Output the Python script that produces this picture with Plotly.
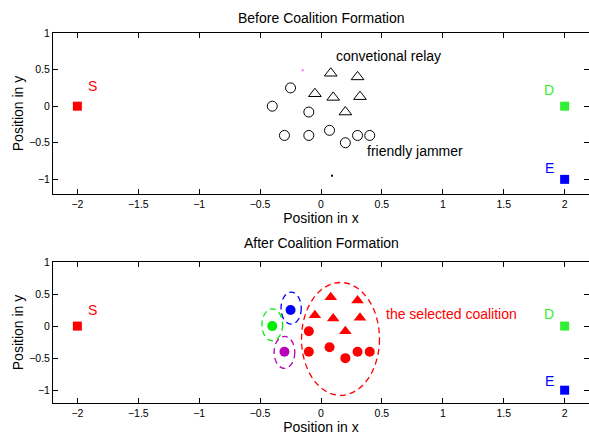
import plotly.graph_objects as go

# ---------------- data ----------------
relay_x = [0.08, 0.30, -0.05, 0.10, 0.32, 0.20]
relay_y = [0.45, 0.40, 0.17, 0.12, 0.13, -0.08]
jam_x = [-0.25, -0.40, -0.10, -0.30, -0.10, 0.07, 0.20, 0.30, 0.40]
jam_y = [0.25, 0.00, -0.08, -0.40, -0.40, -0.33, -0.50, -0.40, -0.40]
# jammers that stay outside the selected coalition (index into jam lists)
solo_idx = [0, 1, 3]
solo_colors = ["#0000ff", "#00ee00", "#bb00bb"]
nodes = ["S", "D", "E"]
node_x = [-2, 2, 2]
node_y = [0, 0, -1]
node_colors = ["#ff0000", "#33ee33", "#0000ff"]
# ellipses: (cx, cy, rx, ry, color)
ell_cx = [0.16, -0.245, -0.40, -0.30]
ell_cy = [-0.20, 0.28, 0.02, -0.41]
ell_rx = [0.32, 0.083, 0.085, 0.085]
ell_ry = [0.88, 0.25, 0.25, 0.25]
ell_col = ["#ff0000", "#0000ff", "#00ee00", "#bb00bb"]
x_ticks = [-2, -1.5, -1, -0.5, 0, 0.5, 1, 1.5, 2]
y_ticks = [-1, -0.5, 0, 0.5, 1]

FONT = "Liberation Sans, Arial, sans-serif"
fig = go.Figure()

# ----- top panel -----
fig.add_trace(go.Scatter(x=relay_x, y=relay_y, mode="markers", xaxis="x", yaxis="y",
                         marker=dict(symbol="triangle-up-open", size=11, color="black",
                                     line=dict(width=1)), showlegend=False))
fig.add_trace(go.Scatter(x=jam_x, y=jam_y, mode="markers", xaxis="x", yaxis="y",
                         marker=dict(symbol="circle-open", size=10, color="black",
                                     line=dict(width=1)), showlegend=False))
fig.add_trace(go.Scatter(x=[-0.15, 0.09], y=[0.49, -0.95], mode="markers", xaxis="x", yaxis="y",
                         marker=dict(symbol="square", size=2, color=["#ff66ff", "black"]),
                         showlegend=False))
for ax, ay in [("x", "y"), ("x2", "y2")]:
    fig.add_trace(go.Scatter(x=node_x, y=node_y, mode="markers", xaxis=ax, yaxis=ay,
                             marker=dict(symbol="square", size=9, color=node_colors),
                             showlegend=False))

# ----- bottom panel -----
red_idx = [i for i in range(len(jam_x)) if i not in solo_idx]
fig.add_trace(go.Scatter(x=relay_x, y=relay_y, mode="markers", xaxis="x2", yaxis="y2",
                         marker=dict(symbol="triangle-up", size=11, color="#ff0000"),
                         showlegend=False))
fig.add_trace(go.Scatter(x=[jam_x[i] for i in red_idx], y=[jam_y[i] for i in red_idx],
                         mode="markers", xaxis="x2", yaxis="y2",
                         marker=dict(symbol="circle", size=10, color="#ff0000"),
                         showlegend=False))
fig.add_trace(go.Scatter(x=[jam_x[i] for i in solo_idx], y=[jam_y[i] for i in solo_idx],
                         mode="markers", xaxis="x2", yaxis="y2",
                         marker=dict(symbol="circle", size=10, color=solo_colors),
                         showlegend=False))

shapes = []
for cx, cy, rx, ry, c in zip(ell_cx, ell_cy, ell_rx, ell_ry, ell_col):
    shapes.append(dict(type="circle", xref="x2", yref="y2", x0=cx - rx, x1=cx + rx,
                       y0=cy - ry, y1=cy + ry, line=dict(color=c, width=1.3, dash="6px,4px")))

H, T, B = 437, 33, 34
ph = H - T - B
annotations = []
for s, ypix in [("Before Coalition Formation", 18), ("After Coalition Formation", 243)]:
    annotations.append(dict(text=s, x=0.5, y=(H - B - ypix) / ph, xref="paper", yref="paper",
                            showarrow=False, xanchor="center", yanchor="middle",
                            font=dict(size=14, color="black", family=FONT)))

def txt(s, x, y, ax, ay, color, anchor="left", size=14):
    annotations.append(dict(text=s, x=x, y=y, xref=ax, yref=ay, showarrow=False,
                            xanchor=anchor, yanchor="middle",
                            font=dict(size=size, color=color, family=FONT)))

txt("convetional relay", 0.11, 0.69, "x", "y", "black")
txt("friendly jammer", 0.36, -0.61, "x", "y", "black")
txt("S", -1.93, 0.27, "x", "y", "#ff0000")
txt("D", 1.93, 0.22, "x", "y", "#33ee33", "right")
txt("E", 1.93, -0.84, "x", "y", "#0000ff", "right")
txt("the selected coalition", 0.52, 0.19, "x2", "y2", "#ff0000")
txt("S", -1.93, 0.25, "x2", "y2", "#ff0000")
txt("D", 1.93, 0.19, "x2", "y2", "#33ee33", "right")
txt("E", 1.93, -0.86, "x2", "y2", "#0000ff", "right")

axcommon = dict(showgrid=False, zeroline=False, showline=True, linecolor="black",
                linewidth=1, mirror="ticks", ticks="inside", ticklen=5, tickcolor="black",
                automargin=False,
                tickfont=dict(size=10.5, color="black", family=FONT))
xcommon = dict(axcommon, range=[-2.2, 2.2], tickvals=x_ticks,
               title=dict(text="Position in x", font=dict(size=14, color="black", family=FONT),
                          standoff=0))
ycommon = dict(axcommon, range=[-1.2, 1], tickvals=y_ticks,
               title=dict(text="Position in y", font=dict(size=14, color="black", family=FONT),
                          standoff=2))

fig.update_layout(
    width=589, height=437,
    margin=dict(l=53, r=0, t=T, b=B, autoexpand=False),
    plot_bgcolor="white", paper_bgcolor="white",
    xaxis=dict(xcommon, domain=[0, 1], anchor="y"),
    yaxis=dict(ycommon, domain=[(403 - 194) / ph, 1], anchor="x"),
    xaxis2=dict(xcommon, domain=[0, 1], anchor="y2"),
    yaxis2=dict(ycommon, domain=[0, (403 - 262) / ph], anchor="x2"),
    shapes=shapes, annotations=annotations,
    font=dict(family=FONT, color="black"),
)

fig.write_html("out.html", config={"displayModeBar": False},
               post_script="document.body.style.margin='0px';")
